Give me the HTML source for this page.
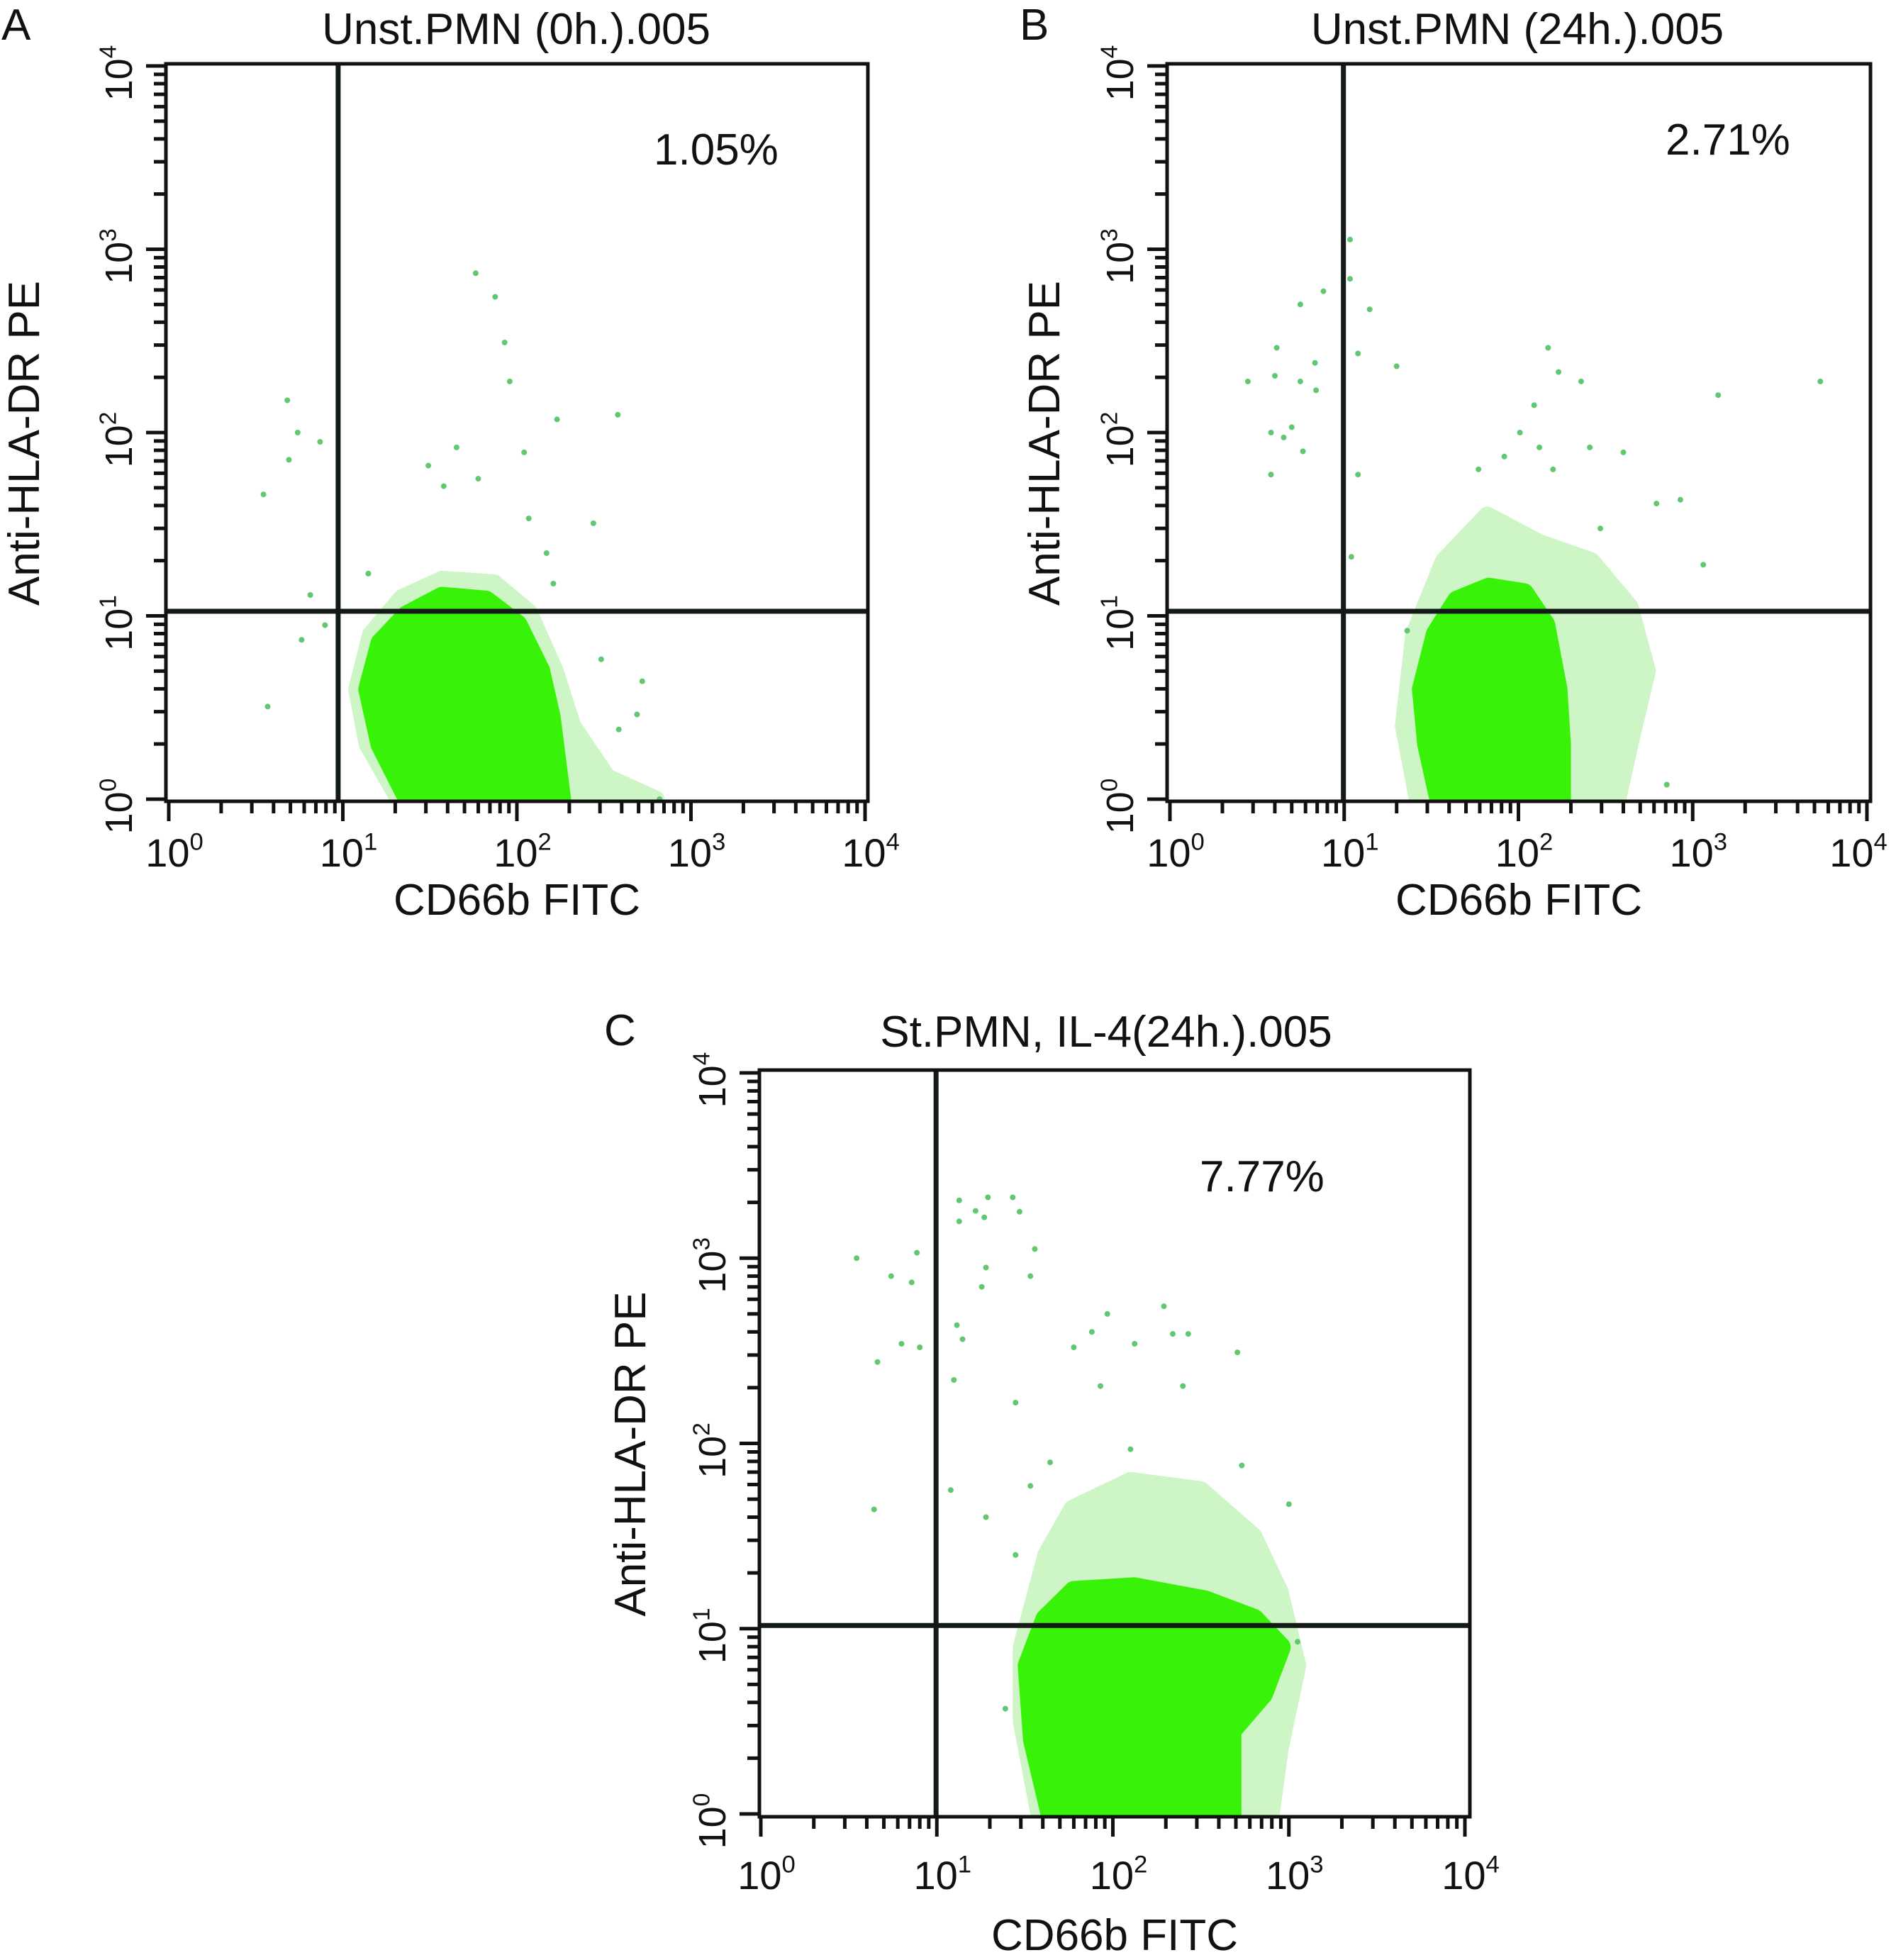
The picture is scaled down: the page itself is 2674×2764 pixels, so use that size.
<!DOCTYPE html>
<html><head><meta charset="utf-8">
<style>
html,body{margin:0;padding:0;background:#fff;}
svg{display:block;font-family:"Liberation Sans",Arial,sans-serif;}
</style></head>
<body>
<svg id="fig" width="2674" height="2764" viewBox="0 0 2674 2764" xmlns="http://www.w3.org/2000/svg"></svg>
<script>
// ---------- data (fluorescence values) ----------
const tickExponents = [0, 1, 2, 3, 4];
const titles = ["Unst.PMN (0h.).005", "Unst.PMN (24h.).005", "St.PMN, IL-4(24h.).005"];
const panelLetters = ["A", "B", "C"];
const percentLabels = ["1.05%", "2.71%", "7.77%"];
const xAxisTitle = "CD66b FITC";
const yAxisTitle = "Anti-HLA-DR PE";
const gateX = [9.4, 9.9, 9.9];
const gateY = [10.6, 10.6, 10.4];

// dense population outlines [CD66b, HLA-DR] (log10 units)
const coreA = [[1.38,0],[1.22,0.3],[1.15,0.6],[1.22,0.85],[1.37,1.0],[1.57,1.1],[1.82,1.08],[2.0,0.95],[2.13,0.7],[2.19,0.45],[2.23,0.15],[2.25,0]];
const haloA = [[1.32,0],[1.14,0.3],[1.08,0.6],[1.16,0.9],[1.34,1.1],[1.57,1.2],[1.87,1.18],[2.07,1.02],[2.22,0.7],[2.32,0.4],[2.52,0.12],[2.8,0]];
const coreB = [[1.55,0],[1.48,0.3],[1.45,0.6],[1.53,0.9],[1.65,1.08],[1.83,1.15],[2.03,1.12],[2.15,0.95],[2.22,0.6],[2.24,0.3],[2.24,0]];
const haloB = [[1.42,0],[1.34,0.4],[1.4,0.9],[1.57,1.3],[1.82,1.55],[2.12,1.4],[2.42,1.3],[2.64,1.05],[2.74,0.7],[2.64,0.3],[2.57,0]];
const coreC = [[1.65,0],[1.55,0.4],[1.52,0.8],[1.62,1.05],[1.78,1.2],[2.12,1.22],[2.52,1.15],[2.8,1.05],[2.95,0.9],[2.85,0.65],[2.67,0.45],[2.67,0]];
const haloC = [[1.58,0],[1.48,0.5],[1.48,0.9],[1.62,1.4],[1.77,1.65],[2.1,1.8],[2.5,1.75],[2.8,1.5],[2.95,1.2],[3.05,0.8],[2.95,0.35],[2.9,0]];

// scattered events
const eventsAx = [58,75,85,91,170,380,110,45,31,38,60,4.8,5.5,4.9,7.4,3.5,117,275,148,162,14,6.5,5.8,7.9,3.7,525,385,490,305,660];
const eventsAy = [740,550,310,190,118,125,78,83,66,51,56,150,100,71,89,46,34,32,22,15,17,13,7.4,8.9,3.2,4.4,2.4,2.9,5.8,1];
const eventsBx = [10.8,10.8,7.6,5.6,14,4.1,6.8,12,20,2.8,4.0,5.6,6.9,3.8,5.0,4.5,5.8,3.8,12,11,148,170,229,123,1400,5400,102,132,257,400,83,158,59,620,850,295,1150,710,23];
const eventsBy = [1130,690,590,500,470,290,240,270,230,190,204,190,170,100,107,94,79,59,59,21,290,214,190,141,160,190,100,83,83,78,74,63,63,41,43,30,19,1.2,8.3];
const eventsCx = [13.4,16.6,19.5,27,29.5,13.4,18.6,36,3.5,7.7,5.5,7.2,19,34,18,13,14,6.3,8,4.6,12.5,28,93,195,76,219,268,133,60,510,85,250,126,44,540,34,12,1000,4.4,19,28,1120,24.5];
const eventsCy = [2050,1800,2130,2130,1780,1580,1660,1120,1000,1070,800,740,890,800,700,435,365,345,330,275,220,166,500,550,400,390,390,345,330,310,204,204,93,79,76,59,56,47,44,40,25,8.5,3.7];

// ---------- layout (not data) ----------
const panels = [
  {box:[234,90,1224,1130], x0:238, x4:1220, y0:1127, y4:93, core:coreA, halo:haloA, ex:eventsAx, ey:eventsAy,
   letter:[2,56], title:[728,62], pct:[922,232], ytitleX:33, xtitleY:1290, lastOff:8},
  {box:[1646,90,2638,1130], x0:1650, x4:2633, y0:1127, y4:93, core:coreB, halo:haloB, ex:eventsBx, ey:eventsBy,
   letter:[1438,56], title:[2140,62], pct:[2349,218], ytitleX:1472, xtitleY:1290, lastOff:-12},
  {box:[1071,1509,2073,2562], x0:1073, x4:2066, y0:2558, y4:1513, core:coreC, halo:haloC, ex:eventsCx, ey:eventsCy,
   letter:[852,1474], title:[1560,1476], pct:[1692,1680], ytitleX:888, xtitleY:2750, lastOff:8, tickDy:10}
];
const NS = "http://www.w3.org/2000/svg";
const svg = document.getElementById('fig');
function mk(tag, attrs, parent){
  const e = document.createElementNS(NS, tag);
  for (const k in attrs) e.setAttribute(k, attrs[k]);
  (parent||svg).appendChild(e);
  return e;
}
function supText(parent, x, y, exp, size, transform){
  const t = mk('text', {x:x, y:y, 'font-size':size, 'text-anchor':'middle', fill:'#111'}, parent);
  if (transform) t.setAttribute('transform', transform);
  const a = document.createElementNS(NS,'tspan'); a.textContent = '10'; t.appendChild(a);
  const b = document.createElementNS(NS,'tspan'); b.setAttribute('dy', -size*0.42); b.setAttribute('font-size', size*0.62); b.textContent = String(exp); t.appendChild(b);
  return t;
}

panels.forEach((p, i) => {
  const g = mk('g', {});
  
  
  const xs = v => p.x0 + (Math.log10(v)) / 4 * (p.x4 - p.x0);
  const ys = v => p.y0 + (Math.log10(v)) / 4 * (p.y4 - p.y0);
  const xl = l => p.x0 + l / 4 * (p.x4 - p.x0);
  const yl = l => p.y0 + l / 4 * (p.y4 - p.y0);
  const [L,T,R,B] = p.box;

  const cp = mk('clipPath', {id:'clip'+i}, g);
  mk('rect', {x:L, y:T, width:R-L, height:B-T}, cp);
  const plot = mk('g', {'clip-path':'url(#clip'+i+')'}, g);
  
  

  const haloPts = p.halo.map(q => xl(q[0]).toFixed(1)+','+yl(q[1]).toFixed(1)).join(' ');
  const halo = mk('polygon', {points: haloPts + ' ' + xl(p.halo[p.halo.length-1][0]) + ',' + (B+30) + ' ' + xl(p.halo[0][0]) + ',' + (B+30),
    fill:'#c9f4c0', stroke:'#c9f4c0', 'stroke-width':24, 'stroke-linejoin':'round', opacity:0.9}, plot);
  
  
  const corePts = p.core.map(q => xl(q[0]).toFixed(1)+','+yl(q[1]).toFixed(1)).join(' ');
  const core = mk('polygon', {points: corePts + ' ' + xl(p.core[p.core.length-1][0]) + ',' + (B+30) + ' ' + xl(p.core[0][0]) + ',' + (B+30),
    fill:'#38f208', stroke:'#38f208', 'stroke-width':30, 'stroke-linejoin':'round'}, plot);
  
  

  p.ex.forEach((v, k) => {
    const c = mk('circle', {cx: xs(v).toFixed(1), cy: ys(p.ey[k]).toFixed(1), r: 4, fill:'#62c870'}, plot);
    
    
  });

  const gv = mk('line', {x1: xs(gateX[i]), y1: T, x2: xs(gateX[i]), y2: B, stroke:'#141a18', 'stroke-width':7}, g);
  
  
  const gh = mk('line', {x1: L, y1: ys(gateY[i]), x2: R, y2: ys(gateY[i]), stroke:'#141a18', 'stroke-width':7}, g);
  
  

  const fr = mk('rect', {x:L, y:T, width:R-L, height:B-T, fill:'none', stroke:'#111', 'stroke-width':5}, g);
  
  

  const tk = mk('g', {stroke:'#111', 'stroke-width':5}, g);
  
  
  for (let d = 0; d < 4; d++) {
    for (let m = 1; m <= 9; m++) {
      const l = d + Math.log10(m);
      const len = m === 1 ? 28 : 17;
      mk('line', {x1: xl(l), y1: B, x2: xl(l), y2: B + len}, tk);
      mk('line', {x1: L, y1: yl(l), x2: L - len, y2: yl(l)}, tk);
    }
  }
  mk('line', {x1: xl(4), y1: B, x2: xl(4), y2: B + 28}, tk);
  mk('line', {x1: L, y1: yl(4), x2: L - 28, y2: yl(4)}, tk);

  const tdy = p.tickDy || 0;
  tickExponents.forEach(e => {
    const off = e === 4 ? p.lastOff : 8;
    const tx = supText(g, xl(e) + off, B + 92 + tdy, e, 56);
    
    
    const yx = L - 48, yy = yl(e) + 10;
    const ty = supText(g, yx, yy, e, 54, 'rotate(-90 ' + yx + ' ' + yy + ')');
    
    
  });

  const lt = mk('text', {x:p.letter[0], y:p.letter[1], 'font-size':62, fill:'#111'}, g);
  lt.textContent = panelLetters[i];
  
  
  const tt = mk('text', {x:p.title[0], y:p.title[1], 'font-size':62, 'text-anchor':'middle', fill:'#111'}, g);
  tt.textContent = titles[i];
  
  
  const pc = mk('text', {x:p.pct[0], y:p.pct[1], 'font-size':62, fill:'#111'}, g);
  pc.textContent = percentLabels[i];
  
  
  const xt = mk('text', {x:(L+R)/2, y:p.xtitleY, 'font-size':62, 'text-anchor':'middle', fill:'#111'}, g);
  xt.textContent = xAxisTitle;
  
  
  const yc = (T+B)/2 + 15;
  const yt = mk('text', {x:p.ytitleX + 22, y:yc, 'font-size':62, 'text-anchor':'middle', fill:'#111', transform:'rotate(-90 ' + (p.ytitleX+22) + ' ' + yc + ')'}, g);
  yt.textContent = yAxisTitle;
  
  
});
</script>
</body></html>
